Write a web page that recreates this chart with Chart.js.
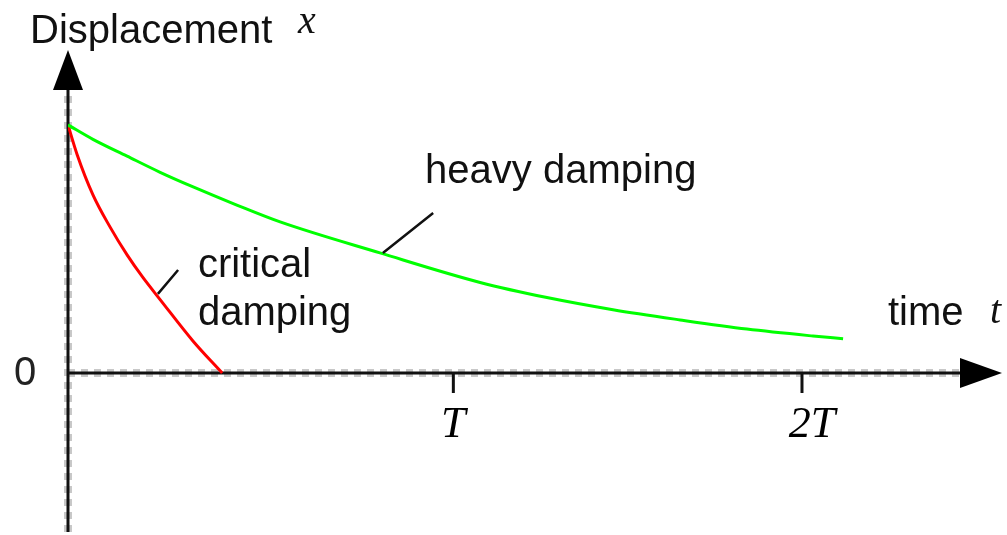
<!DOCTYPE html>
<html>
<head>
<meta charset="utf-8">
<script src="https://cdn.jsdelivr.net/npm/chart.js@4.4.1/dist/chart.umd.min.js"></script>
<style>
  html, body { margin: 0; padding: 0; background: #fff; }
  canvas { display: block; }
</style>
</head>
<body>
<canvas id="chart" width="1007" height="535"></canvas>
<script>
// time in units where the "2T" tick sits at 2; displacement relative to the start value
const heavyT = [0, 0.068, 0.161, 0.251, 0.341, 0.46, 0.578, 0.85, 1.123, 1.305, 1.485, 1.668, 1.85, 2.03, 2.112];
const heavyX = [1.0, 0.942, 0.874, 0.809, 0.75, 0.677, 0.609, 0.484, 0.365, 0.304, 0.255, 0.214, 0.177, 0.149, 0.138];

const criticalT = [0, 0.025, 0.068, 0.114, 0.161, 0.204, 0.251, 0.341, 0.42];
const criticalX = [1.0, 0.88, 0.718, 0.59, 0.476, 0.385, 0.296, 0.128, 0.0];

const xTickValues = [1.05, 2.0];
const xTickLabels = ["T", "2T"];
const yTickValues = [0];
const yTickLabels = ["0"];

const toPoints = (ts, xs) => ts.map((t, i) => ({ x: t, y: xs[i] }));

const sans = '"Liberation Sans", Arial, sans-serif';
const serif = '"Liberation Serif", "Times New Roman", serif';

const axesPlugin = {
  id: "axes",
  beforeDatasetsDraw(chart) {
    const { ctx, chartArea, scales } = chart;
    const x0 = scales.x.getPixelForValue(0);
    const y0 = scales.y.getPixelForValue(0);
    const right = chartArea.right;
    const top = chartArea.top;
    const bottom = chartArea.bottom;
    ctx.save();

    // grey dashed fringe under the axis lines
    ctx.strokeStyle = "#c8c8c8";
    ctx.lineWidth = 8;
    ctx.setLineDash([7, 6]);
    ctx.beginPath();
    ctx.moveTo(x0, y0);
    ctx.lineTo(right - 42, y0);
    ctx.moveTo(x0, bottom);
    ctx.lineTo(x0, top + 40);
    ctx.stroke();
    ctx.setLineDash([]);

    ctx.strokeStyle = "#111";
    ctx.lineWidth = 3;
    ctx.beginPath();
    ctx.moveTo(x0, y0);
    ctx.lineTo(right - 30, y0);
    ctx.moveTo(x0, bottom);
    ctx.lineTo(x0, top + 30);
    ctx.stroke();

    // arrow heads
    ctx.fillStyle = "#000";
    ctx.beginPath();
    ctx.moveTo(right, y0);
    ctx.lineTo(right - 42, y0 - 15);
    ctx.lineTo(right - 42, y0 + 15);
    ctx.closePath();
    ctx.fill();
    ctx.beginPath();
    ctx.moveTo(x0, top);
    ctx.lineTo(x0 - 15, top + 40);
    ctx.lineTo(x0 + 15, top + 40);
    ctx.closePath();
    ctx.fill();

    // tick marks and labels on the time axis
    ctx.lineWidth = 3;
    ctx.font = "italic 44px " + serif;
    ctx.textAlign = "center";
    ctx.textBaseline = "alphabetic";
    xTickValues.forEach((v, i) => {
      const px = scales.x.getPixelForValue(v);
      ctx.beginPath();
      ctx.moveTo(px, y0);
      ctx.lineTo(px, y0 + 20);
      ctx.stroke();
      ctx.fillText(xTickLabels[i], px + (i === 0 ? 0 : 10), y0 + 64);
    });

    ctx.font = "40px " + sans;
    ctx.fillStyle = "#222";
    ctx.textBaseline = "middle";
    yTickValues.forEach((v, i) => {
      ctx.fillText(yTickLabels[i], x0 - 43, scales.y.getPixelForValue(v) + 1);
    });
    ctx.restore();
  },
  afterDatasetsDraw(chart) {
    const { ctx, scales } = chart;
    const px = (v) => scales.x.getPixelForValue(v);
    const py = (v) => scales.y.getPixelForValue(v);
    ctx.save();

    // leader lines
    ctx.strokeStyle = "#111";
    ctx.lineWidth = 2.5;
    ctx.beginPath();
    ctx.moveTo(px(0.858), py(0.484));
    ctx.lineTo(px(0.995), py(0.645));
    ctx.moveTo(px(0.245), py(0.319));
    ctx.lineTo(px(0.3), py(0.415));
    ctx.stroke();

    ctx.fillStyle = "#111";
    ctx.textAlign = "left";
    ctx.textBaseline = "alphabetic";
    ctx.font = "40px " + sans;
    ctx.fillText("heavy damping", px(0.973), py(0.766));
    ctx.fillText("critical", px(0.354), py(0.387));
    ctx.fillText("damping", px(0.354), py(0.387) + 48);

    // axis titles
    ctx.fillText("Displacement", 30, 43);
    ctx.fillText("time", 888, 325);
    ctx.font = "italic 40px " + serif;
    ctx.fillText("x", 298, 33);
    ctx.fillText("t", 990, 323);
    ctx.restore();
  }
};

new Chart(document.getElementById("chart"), {
  type: "line",
  data: {
    datasets: [
      {
        label: "heavy damping",
        data: toPoints(heavyT, heavyX),
        borderColor: "#00ff00",
        borderWidth: 3,
        pointRadius: 0,
        cubicInterpolationMode: "monotone",
      },
      {
        label: "critical damping",
        data: toPoints(criticalT, criticalX),
        borderColor: "#ff0000",
        borderWidth: 3,
        pointRadius: 0,
        cubicInterpolationMode: "monotone",
      },
    ],
  },
  options: {
    responsive: false,
    animation: false,
    layout: { padding: { left: 68, right: 5, top: 50, bottom: 3 } },
    plugins: { legend: { display: false }, tooltip: { enabled: false } },
    scales: {
      x: { type: "linear", min: 0, max: 2.545, display: false },
      y: { type: "linear", min: -0.641, max: 1.302, display: false },
    },
  },
  plugins: [axesPlugin],
});
</script>
</body>
</html>
